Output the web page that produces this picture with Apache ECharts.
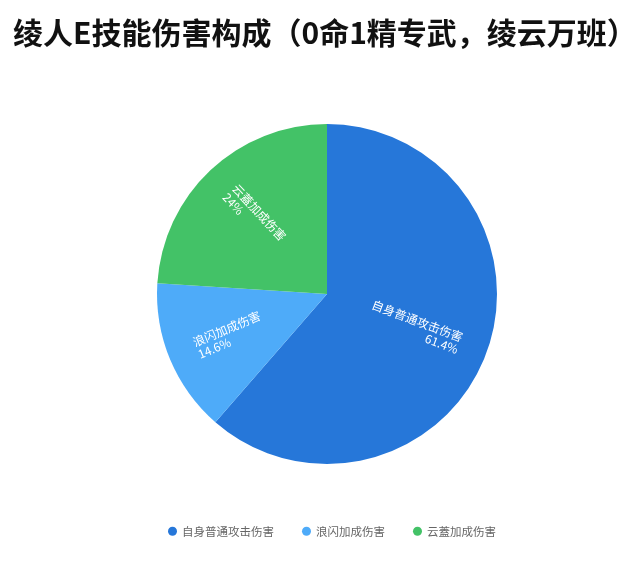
<!DOCTYPE html>
<html>
<head>
<meta charset="utf-8">
<script src="https://cdn.jsdelivr.net/npm/echarts@6/dist/echarts.min.js"></script>
<style>html,body{margin:0;padding:0;background:#fff}#c{width:640px;height:562px}</style>
</head>
<body>
<div id="c"></div>
<script>
var titleText = '绫人E技能伤害构成（0命1精专武，绫云万班）';
var categories = ['自身普通攻击伤害', '浪闪加成伤害', '云蓋加成伤害'];
var values = [61.4, 14.6, 24];
var colors = ['#2677d9', '#4eabf9', '#43c267'];

var total = values.reduce(function (a, b) { return a + b; }, 0);
function isLeft(idx) {
  var before = 0;
  for (var i = 0; i < idx; i++) before += values[i];
  var mid = (before + values[idx] / 2) / total * 360;
  var ang = (90 - mid) * Math.PI / 180;
  return Math.cos(ang) < 0;
}

var data = categories.map(function (n, i) { return { name: n, value: values[i] }; });
var font = '"Noto Sans CJK SC", sans-serif';

var chart = echarts.init(document.getElementById('c'), null, { renderer: 'canvas' });
chart.setOption({
  animation: false,
  color: colors,
  title: {
    text: titleText, left: 8, top: 13,
    textStyle: { fontSize: 30, fontWeight: 'bold', color: '#111', fontFamily: font }
  },
  legend: {
    data: categories, bottom: 20, left: 163,
    icon: 'circle', itemWidth: 9, itemHeight: 9, itemGap: 28,
    textStyle: { color: '#666', fontSize: 11.5, fontFamily: font }
  },
  series: [
    {
      type: 'pie', center: [327, 294], radius: [0, 170], startAngle: 90,
      data: data, label: { show: false }, labelLine: { show: false }, silent: true
    },
    {
      type: 'pie', center: [327, 294], radius: [108, 170], startAngle: 90,
      data: data, silent: true,
      itemStyle: { color: 'rgba(0,0,0,0)' },
      label: {
        show: true, position: 'inside', rotate: 'radial',
        formatter: '{b}\n{d}%', color: '#fff', fontSize: 12, lineHeight: 13, fontFamily: font
      },
      labelLine: { show: false },
      labelLayout: function (p) {
        return { align: isLeft(p.dataIndex) ? 'left' : 'right' };
      }
    }
  ]
});
</script>
</body>
</html>
